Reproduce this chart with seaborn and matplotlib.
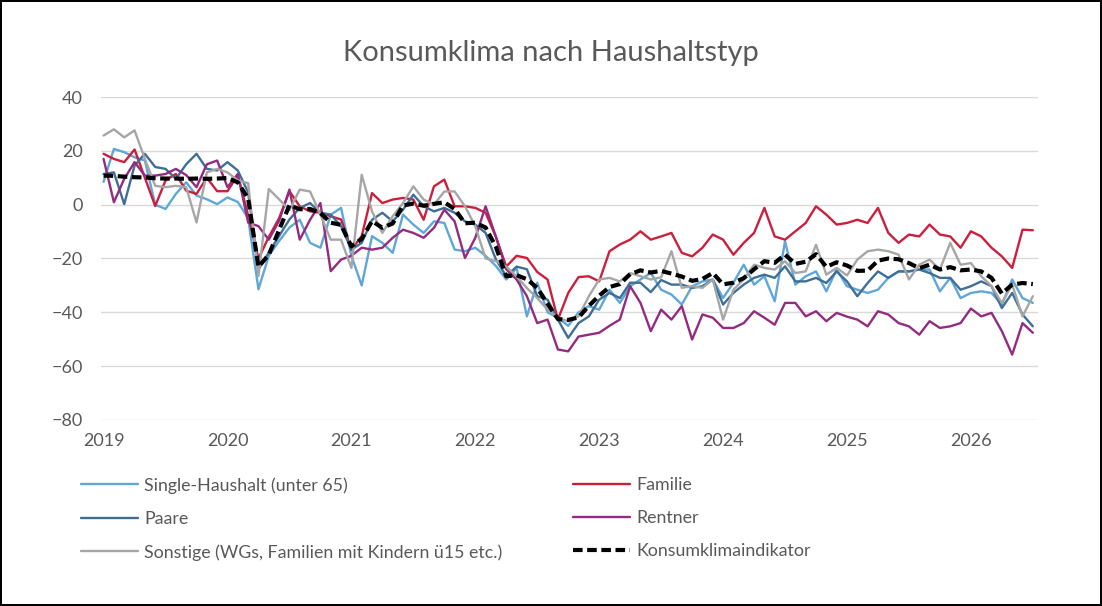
import matplotlib
matplotlib.use('Agg')
import matplotlib.pyplot as plt
import seaborn as sns
import numpy as np
import pandas as pd

sns.set_theme(style="white")
plt.rcParams['font.family'] = ['Lato', 'DejaVu Sans']

# ── Data: monthly values Jan 2019 .. Jul 2026 ─────────────────────
months = np.arange(91)
year_labels = ['2019', '2020', '2021', '2022', '2023', '2024', '2025', '2026']

single = [8.5, 20.7, 19.5, 17.6, 16.4, 0, -1.6, 4, 8.3, 3.4, 2, 0.2,
          2.7, 1, -5, -31.4, -19, -13.5, -8.5, -5.6, -14.2, -16, -3.7, -1.2,
          -19, -30, -11.7, -14.2, -17.9, -3.7, -7.4, -10.5, -6.2, -6.8, -16.7, -17.3,
          -16, -19, -22.8, -27.8, -23.5, -41.5, -29, -40, -42, -45, -40, -37.7,
          -39, -31.6, -36.5, -30.3, -27.8, -25.4, -31.6, -33.4, -37.1, -30.3, -28.5, -27.8,
          -34.7, -29, -22.3, -29.7, -26.6, -35.9, -13.6, -29.7, -26.6, -24.8, -32.2, -24.1,
          -30.3, -31.6, -32.8, -31.6, -27.2, -24.8, -24.8, -24.1, -24.1, -32.2, -27.2, -34.7,
          -32.8, -32.2, -32.8, -37.1, -27.8, -34.7, -36.5]

familie = [18.9, 17, 15.8, 20.5, 10, -0.5, 9, 11.4, 5.2, 4, 10, 5,
           5, 11, -4, -20, -12, -5, 5, -0.6, -2.5, -3, -4.3, -5.5,
           -16.7, -11.7, 4.3, 0.6, 1.9, 2.5, 1.9, -5.6, 6.8, 9.3, -0.6, -0.6,
           -1.2, -3, -12, -23, -19, -19.8, -25, -27.8, -42.7, -32.8, -26.9, -26.6,
           -28.5, -17.3, -14.8, -13, -9.9, -13, -11.8, -10.5, -17.9, -19.2, -16, -11.1,
           -13, -18.6, -14.2, -10.5, -1.2, -11.8, -13, -9.9, -6.8, -0.6, -3.7, -7.4,
           -6.8, -5.6, -6.8, -1.2, -10.5, -14.2, -11.1, -11.8, -7.4, -11.1, -11.8, -16,
           -9.9, -11.8, -16, -19.2, -23.5, -9.3, -9.5]

paare = [11.4, 12, 0.2, 14.5, 18.9, 14, 13.3, 9.6, 15, 18.9, 13.3, 12.7,
         15.8, 12.7, 4.6, -24, -17.8, -11.6, -5.5, -1.2, 0.6, -3, -3.7, -8,
         -16.7, -14.2, -5.6, -3, -6.2, -1.9, 3.7, -0.6, -2.5, -1.2, -3, -6.2,
         -7.4, -10.5, -20.4, -26.6, -23, -24, -34, -35.3, -42.7, -49.5, -44, -41.5,
         -35.3, -32.8, -34.7, -29, -29, -32.5, -28, -29.7, -29.7, -30.9, -30.3, -27.8,
         -37.1, -32.8, -29.7, -27.2, -26, -27.2, -22.9, -28.5, -28.5, -27.2, -29.1, -24.8,
         -28.5, -34, -29.1, -24.8, -27.2, -24.8, -24.8, -24.1, -25.4, -27.2, -27.2, -31.6,
         -30.3, -28.5, -30.3, -38.4, -32.8, -40.8, -45.2]

rentner = [17, 0.9, 9.6, 15.8, 10.8, 10.8, 11.4, 13.3, 11, 6.5, 15, 16.4,
           6.5, 11.4, -6.6, -8, -13, -6, 5.6, -13, -5.6, 0.6, -24.7, -20.4,
           -19, -16, -16.7, -16, -12.3, -9.3, -10.5, -12.3, -8.6, -1.9, -6.2, -19.8,
           -12.3, -0.6, -12, -24, -27.8, -34, -44, -42.7, -53.8, -54.5, -49, -48.3,
           -47.6, -45, -42.7, -30.3, -36.5, -47, -39, -42.7, -37.7, -50.1, -40.8, -42,
           -45.8, -45.8, -44, -39.6, -42, -44.6, -36.5, -36.5, -41.5, -39.6, -43.3, -40.2,
           -41.6, -42.7, -45.2, -39.6, -40.8, -44, -45.2, -48.3, -43.3, -45.8, -45.2, -44,
           -38.6, -41.5, -40.2, -47, -55.7, -44, -47.6]

sonstige = [25.7, 28, 25, 27.6, 17, 7, 6.5, 7, 6.5, -6.6, 12, 13.3,
            12, 9, 8, -26.5, 5.8, 2, -2, 5.6, 4.9, -3.7, -13, -13,
            -23.5, 11.1, -2.5, -10.5, -4.3, 0.6, 6.8, 1.9, 0, 4.9, 4.9, -0.6,
            -8, -20, -21, -23, -26.6, -31, -34.7, -39, -42, -43.3, -41.5, -34,
            -27.8, -27.2, -28.5, -25.4, -26.6, -27.8, -27, -17.3, -30.9, -30.3, -30.9, -27.8,
            -42.7, -31.6, -27.8, -22.3, -23.5, -24.1, -21, -25.4, -24.8, -14.9, -26, -23.5,
            -26.3, -20.4, -17.3, -16.7, -17.3, -18.6, -27.8, -22.3, -20.4, -24.1, -14.2, -22.3,
            -21.7, -26.6, -30.3, -36.5, -29.7, -41.5, -34]

konsumklima = [10.8, 10.7, 10.4, 10.2, 10.1, 9.8, 9.7, 9.7, 9.6, 9.7, 9.6, 9.7,
               9.9, 8.3, 2.3, -23.1, -18.6, -9.4, -0.2, -1.7, -1.6, -3.1, -6.7, -7.5,
               -15.5, -12.7, -6.1, -8.6, -7.0, -0.3, 0.4, -0.4, 0.3, 0.9, -1.6, -6.9,
               -6.7, -8.5, -15.7, -26.6, -26.2, -27.7, -30.9, -36.8, -42.5, -42.8, -41.9, -37.6,
               -33.8, -30.6, -29.5, -25.8, -24.4, -25.2, -24.6, -25.6, -26.7, -28.3, -27.6, -25.4,
               -29.6, -29.0, -27.3, -24.0, -21.0, -21.6, -18.6, -22.0, -21.2, -18.4, -23.1, -21.4,
               -22.6, -24.6, -24.5, -20.8, -20.0, -20.3, -21.7, -23.6, -22.3, -24.1, -23.2, -24.4,
               -24.1, -24.8, -27.2, -33.0, -29.7, -29.1, -29.5]

series_names = ['Single-Haushalt (unter 65)', 'Familie', 'Paare', 'Rentner',
                'Sonstige (WGs, Familien mit Kindern ü15 etc.)', 'Konsumklimaindikator']
series_values = [single, familie, paare, rentner, sonstige, konsumklima]
colors = ['#5ea7d8', '#cc1f3c', '#3f6f96', '#932b80', '#a6a6a6', '#000000']

text_col = '#595959'

# ── Figure ────────────────────────────────────────────────────────
fig = plt.figure(figsize=(11.02, 6.06), dpi=100, edgecolor='black', linewidth=1.5)
ax = fig.add_axes([101 / 1102, 1 - 420 / 606, (1038 - 101) / 1102, (420 - 97) / 606])

handles = {}
for name, vals, col in zip(series_names, series_values, colors):
    is_idx = name == 'Konsumklimaindikator'
    sns.lineplot(x=months, y=vals, ax=ax, color=col,
                 linewidth=3.0 if is_idx else 1.7, zorder=5 if is_idx else 3)
    line = ax.lines[-1]
    if is_idx:
        line.set_dashes((2.3, 1.1))
    handles[name] = line

ax.set_xlim(-0.25, 90.5)
ax.set_ylim(-80, 40)
ax.set_yticks(range(-80, 41, 20))
ax.set_xticks(range(0, 85, 12))
ax.set_xticklabels(year_labels)
ax.yaxis.grid(True, color='#d9d9d9', linewidth=1.0)
ax.xaxis.grid(False)
for s in ax.spines.values():
    s.set_visible(False)
ax.tick_params(axis='both', length=0, labelsize=13, labelcolor=text_col)
ax.tick_params(axis='y', pad=13)
ax.tick_params(axis='x', pad=9)
ax.set_xlabel('')
ax.set_ylabel('')

fig.text(0.5, 1 - 53 / 606, 'Konsumklima nach Haushaltstyp', ha='center', va='center',
         fontsize=21, color=text_col)

# two legend columns placed separately
left_names = [series_names[0], series_names[2], series_names[4]]
right_names = [series_names[1], series_names[3], series_names[5]]
for names, x0 in [(left_names, 81), (right_names, 573)]:
    leg = fig.legend([handles[n] for n in names], names, loc='upper left',
                     bbox_to_anchor=(x0 / 1102, 1 - 477 / 606), frameon=False,
                     fontsize=12.8, handlelength=3.2, handletextpad=0.35,
                     labelspacing=0.97, borderpad=0, borderaxespad=0)
    for t in leg.get_texts():
        t.set_color(text_col)

fig.savefig('out.png', dpi=100)
